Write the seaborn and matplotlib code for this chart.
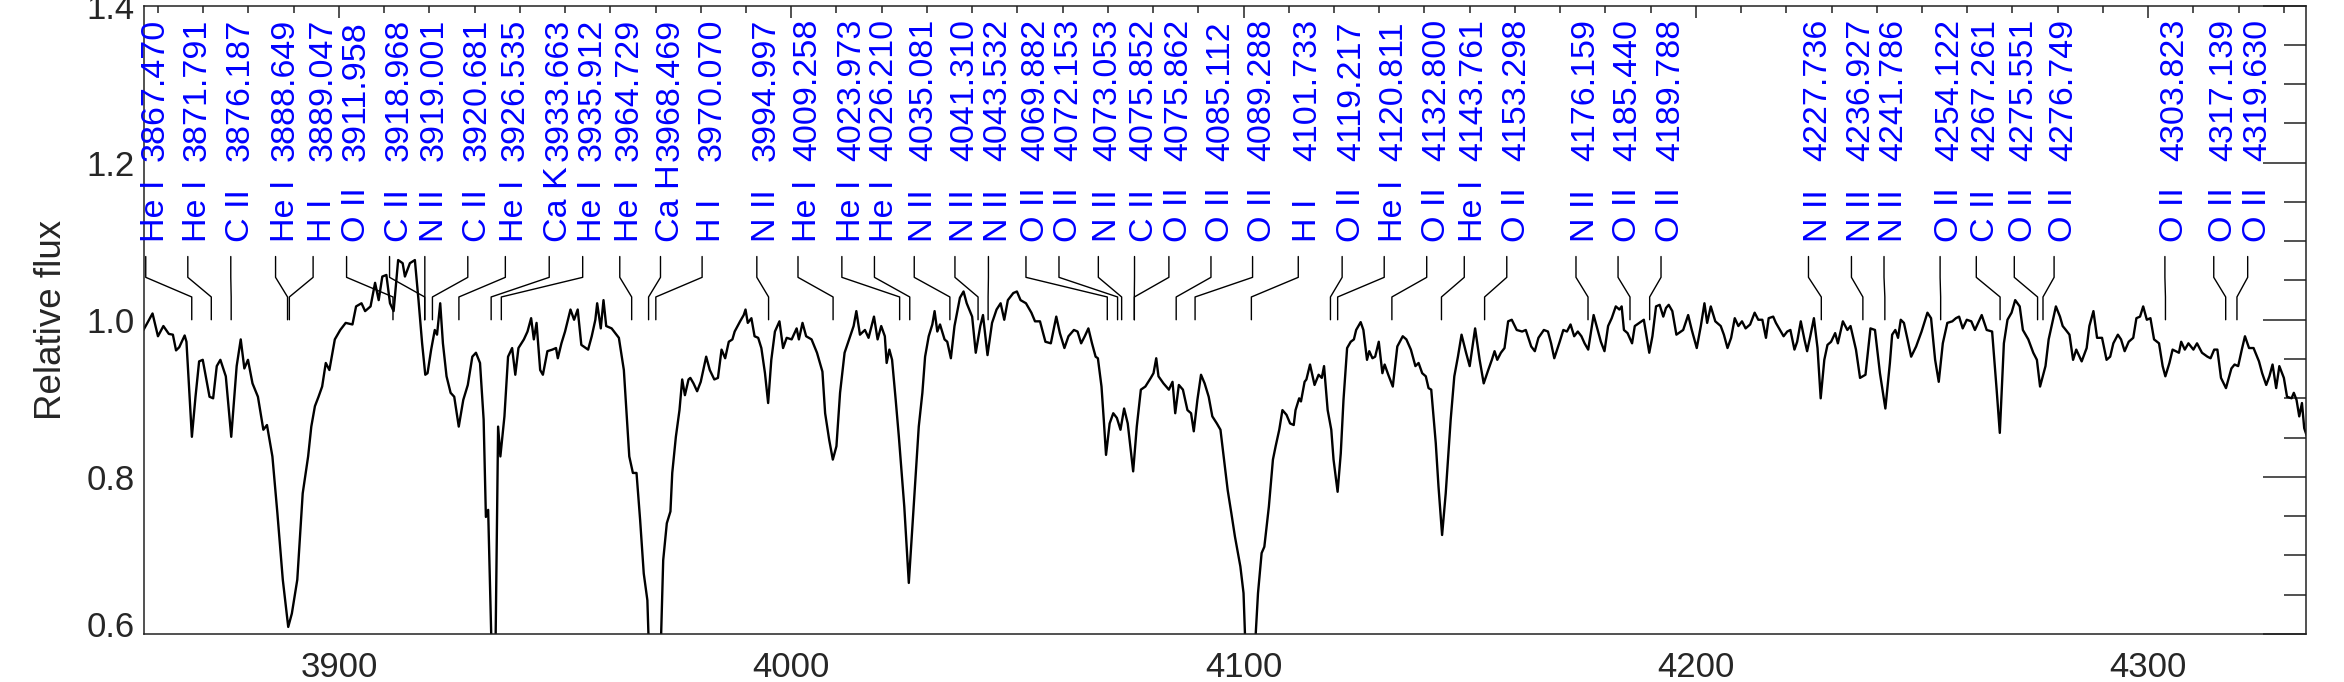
import numpy as np
import pandas as pd
import matplotlib
matplotlib.use("Agg")
import matplotlib.pyplot as plt
import matplotlib.transforms as mtransforms
import seaborn as sns
from matplotlib.ticker import MultipleLocator, FormatStrFormatter

# spectrum, in four stretches
wave_a = [3856.8, 3858.8, 3860.0, 3861.2, 3862.4, 3863.3, 3864.0, 3864.7, 3865.9, 3866.3,
          3867.5, 3868.3, 3869.1, 3869.9, 3870.7, 3871.4, 3872.2, 3873.0, 3873.8, 3875.0,
          3876.2, 3877.4, 3878.3, 3879.1, 3879.9, 3880.9, 3882.1, 3883.3, 3884.1, 3885.3,
          3886.4, 3887.6, 3888.8, 3889.6, 3890.8, 3892.0, 3893.2, 3893.9, 3894.7, 3895.5,
          3896.3, 3897.1, 3897.9, 3899.1, 3900.3, 3901.5, 3903.0, 3903.8, 3905.0, 3905.8,
          3907.0, 3908.0, 3908.8, 3909.6, 3910.5, 3911.3, 3912.1, 3913.1, 3914.1, 3914.6,
          3915.7, 3916.8, 3917.6, 3918.4, 3919.1, 3919.6, 3920.4, 3921.2, 3921.7, 3922.4,
          3923.0, 3923.8, 3924.7, 3925.5, 3926.5, 3927.5, 3928.5, 3929.5, 3930.3, 3931.2,
          3932.0, 3932.5, 3933.0, 3933.8, 3934.6, 3935.2, 3935.7, 3936.6, 3937.4, 3938.3,
          3939.0, 3939.7, 3940.9, 3941.7, 3942.5, 3943.1, 3943.7, 3944.5, 3945.1, 3946.1,
          3947.2, 3948.0, 3948.4, 3949.2, 3950.0, 3951.2, 3952.0, 3952.8, 3953.6, 3955.1,
          3955.9, 3956.7, 3957.1, 3957.9, 3958.5, 3959.1, 3960.3, 3961.9, 3963.0, 3964.2,
          3965.0, 3965.8, 3966.6, 3967.4, 3968.2, 3968.6, 3970.1, 3971.1, 3971.7, 3972.5,
          3973.3, 3973.7, 3974.5, 3975.3, 3975.9, 3976.5, 3977.3]
flux_a = [0.987, 1.008, 0.979, 0.992, 0.982, 0.981, 0.961, 0.965, 0.980, 0.972,
          0.851, 0.902, 0.947, 0.949, 0.924, 0.902, 0.900, 0.941, 0.949, 0.928,
          0.851, 0.941, 0.975, 0.938, 0.949, 0.919, 0.902, 0.860, 0.866, 0.826,
          0.754, 0.669, 0.609, 0.626, 0.669, 0.779, 0.826, 0.864, 0.890, 0.902,
          0.915, 0.945, 0.936, 0.975, 0.987, 0.996, 0.994, 1.017, 1.021, 1.011,
          1.017, 1.047, 1.025, 1.055, 1.057, 1.021, 1.011, 1.076, 1.072, 1.055,
          1.072, 1.076, 1.025, 0.970, 0.930, 0.932, 0.962, 0.987, 0.981, 1.021,
          0.970, 0.928, 0.907, 0.902, 0.864, 0.898, 0.917, 0.953, 0.958, 0.945,
          0.873, 0.749, 0.758, 0.570, 0.570, 0.864, 0.826, 0.877, 0.953, 0.964,
          0.930, 0.964, 0.975, 0.985, 1.002, 0.975, 0.996, 0.936, 0.930, 0.960,
          0.962, 0.964, 0.951, 0.970, 0.985, 1.013, 1.000, 1.013, 0.968, 0.962,
          0.979, 1.000, 1.021, 0.989, 1.025, 0.992, 0.989, 0.977, 0.936, 0.826,
          0.805, 0.805, 0.745, 0.677, 0.643, 0.570, 0.570, 0.570, 0.694, 0.741,
          0.756, 0.805, 0.851, 0.885, 0.924, 0.904, 0.924]

wave_b = [3977.7, 3978.4, 3979.2, 3980.0, 3981.2, 3982.0, 3983.0, 3983.8, 3984.6, 3985.4,
          3986.2, 3987.0, 3987.5, 3988.7, 3989.5, 3989.9, 3990.4, 3991.2, 3991.9, 3992.7,
          3993.4, 3994.2, 3994.9, 3995.6, 3996.4, 3997.4, 3998.2, 3999.0, 4000.1, 4001.2,
          4001.7, 4002.5, 4003.3, 4004.5, 4005.7, 4006.9, 4007.5, 4008.4, 4009.2, 4010.0,
          4010.8, 4011.8, 4012.8, 4013.8, 4014.4, 4015.2, 4016.3, 4017.1, 4018.3, 4019.1,
          4019.9, 4020.7, 4021.1, 4021.7, 4022.3, 4023.1, 4023.8, 4025.0, 4026.0, 4026.8,
          4028.2, 4029.0, 4029.6, 4030.4, 4031.2, 4031.7, 4032.3, 4032.9, 4033.9, 4034.5,
          4035.3, 4036.1, 4037.3, 4038.1, 4038.8, 4040.0, 4040.8, 4041.8, 4042.4, 4043.4,
          4044.4, 4045.4, 4046.3, 4047.1, 4047.9, 4049.1, 4049.9, 4050.7, 4051.9, 4053.1,
          4053.9, 4055.0, 4056.2, 4057.4, 4058.6, 4059.4, 4060.4, 4061.3, 4062.5, 4063.3,
          4064.1, 4064.9, 4065.7, 4066.5, 4067.3, 4067.8, 4068.6, 4069.1, 4069.6, 4070.4,
          4071.2, 4072.0, 4072.8, 4073.6, 4074.4, 4075.6, 4076.4, 4077.3, 4078.3, 4079.5,
          4080.1, 4080.7, 4081.2, 4082.3, 4083.5, 4084.3, 4084.9, 4085.7, 4086.6, 4087.6,
          4088.4, 4089.0, 4089.8, 4090.6, 4091.4, 4092.3, 4093.1, 4094.1, 4094.9, 4095.7,
          4096.5, 4097.3, 4098.1, 4099.3, 4100.0, 4100.5]
flux_b = [0.926, 0.919, 0.909, 0.921, 0.953, 0.936, 0.924, 0.926, 0.962, 0.951,
          0.972, 0.975, 0.985, 0.998, 1.006, 1.013, 0.996, 1.002, 0.979, 0.977,
          0.964, 0.932, 0.894, 0.949, 0.985, 0.998, 0.964, 0.977, 0.975, 0.989,
          0.975, 0.996, 0.979, 0.975, 0.958, 0.934, 0.881, 0.847, 0.822, 0.839,
          0.907, 0.958, 0.975, 0.992, 1.011, 0.981, 0.987, 0.977, 1.004, 0.975,
          0.992, 0.979, 0.945, 0.962, 0.949, 0.898, 0.851, 0.762, 0.665, 0.737,
          0.864, 0.907, 0.953, 0.979, 0.994, 1.011, 0.985, 0.994, 0.975, 0.972,
          0.951, 0.992, 1.028, 1.036, 1.021, 1.004, 0.958, 0.992, 1.006, 0.955,
          0.996, 1.013, 1.021, 1.000, 1.025, 1.034, 1.036, 1.025, 1.021, 1.009,
          0.998, 0.998, 0.972, 0.970, 1.004, 0.983, 0.964, 0.979, 0.987, 0.985,
          0.970, 0.979, 0.989, 0.970, 0.953, 0.951, 0.915, 0.873, 0.828, 0.868,
          0.881, 0.875, 0.860, 0.887, 0.868, 0.807, 0.864, 0.911, 0.915, 0.926,
          0.932, 0.951, 0.928, 0.919, 0.911, 0.921, 0.881, 0.917, 0.911, 0.885,
          0.881, 0.858, 0.898, 0.930, 0.919, 0.902, 0.877, 0.868, 0.860, 0.822,
          0.783, 0.754, 0.724, 0.686, 0.652, 0.570]

wave_c = [4102.4, 4103.2, 4104.0, 4104.6, 4105.6, 4106.5, 4107.1, 4107.9, 4108.6, 4109.5,
          4110.3, 4111.1, 4111.5, 4112.3, 4112.7, 4113.5, 4113.9, 4114.7, 4115.7, 4116.6,
          4117.3, 4117.8, 4118.6, 4119.4, 4119.9, 4120.8, 4121.5, 4122.1, 4122.9, 4123.7,
          4124.4, 4124.9, 4125.9, 4126.5, 4127.3, 4127.8, 4128.5, 4129.1, 4129.9, 4130.7,
          4131.2, 4132.0, 4133.0, 4134.0, 4135.2, 4136.0, 4137.0, 4138.0, 4138.7, 4139.5,
          4140.3, 4140.9, 4141.5, 4142.5, 4143.1, 4143.9, 4144.7, 4145.8, 4146.6, 4147.4,
          4148.2, 4149.2, 4150.0, 4151.2, 4152.2, 4153.1, 4154.1, 4154.9, 4155.5, 4156.1,
          4156.9, 4157.7, 4158.5, 4159.3, 4160.4, 4161.6, 4162.4, 4163.6, 4164.4, 4165.2,
          4166.4, 4167.3, 4168.0, 4168.7, 4169.9, 4170.7, 4171.5, 4172.3, 4173.1, 4173.9,
          4174.7, 4175.4, 4176.2, 4177.4, 4178.2, 4179.0, 4179.8, 4180.6, 4181.4, 4182.3,
          4183.1, 4183.6, 4184.1, 4184.9, 4185.9, 4186.5, 4187.5, 4188.5, 4189.7, 4190.4,
          4191.2, 4192.0, 4192.8, 4193.4, 4194.0, 4194.8, 4195.7, 4197.2, 4198.3, 4199.1,
          4200.2, 4201.1, 4201.9, 4202.5, 4203.3, 4204.3, 4205.5, 4206.2, 4207.0, 4207.8,
          4208.6, 4209.4, 4210.2, 4211.0, 4212.0, 4213.0, 4213.8, 4214.7, 4215.5, 4216.1,
          4217.1, 4217.7, 4218.6]
flux_c = [0.570, 0.652, 0.703, 0.711, 0.762, 0.822, 0.839, 0.860, 0.885, 0.879,
          0.868, 0.866, 0.885, 0.900, 0.896, 0.921, 0.924, 0.943, 0.917, 0.930,
          0.926, 0.941, 0.885, 0.860, 0.822, 0.781, 0.830, 0.898, 0.964, 0.972,
          0.975, 0.987, 0.997, 0.987, 0.949, 0.960, 0.951, 0.953, 0.972, 0.932,
          0.943, 0.930, 0.915, 0.966, 0.979, 0.975, 0.962, 0.941, 0.945, 0.932,
          0.928, 0.913, 0.911, 0.843, 0.788, 0.726, 0.779, 0.873, 0.928, 0.953,
          0.981, 0.958, 0.941, 0.989, 0.949, 0.919, 0.936, 0.949, 0.960, 0.949,
          0.958, 0.964, 0.998, 1.000, 0.987, 0.985, 0.987, 0.966, 0.960, 0.977,
          0.987, 0.985, 0.970, 0.951, 0.972, 0.987, 0.985, 0.994, 0.979, 0.985,
          0.979, 0.970, 0.962, 1.006, 0.989, 0.972, 0.960, 0.992, 1.002, 1.017,
          1.013, 1.017, 0.987, 0.983, 0.970, 0.992, 0.996, 1.000, 0.958, 0.979,
          1.017, 1.019, 1.004, 1.015, 1.019, 1.011, 0.981, 0.987, 1.006, 0.987,
          0.964, 0.992, 1.021, 0.996, 1.017, 0.998, 0.992, 0.981, 0.964, 0.977,
          1.002, 0.992, 0.998, 0.989, 0.994, 1.009, 1.000, 1.000, 0.977, 1.002,
          1.004, 0.996, 0.987]

wave_d = [4219.4, 4220.2, 4220.9, 4221.8, 4222.4, 4223.2, 4224.0, 4224.6, 4225.3, 4226.1,
          4226.9, 4227.6, 4228.4, 4229.1, 4229.9, 4230.8, 4231.4, 4232.5, 4233.5, 4234.2,
          4235.4, 4236.3, 4237.5, 4238.6, 4239.6, 4240.7, 4241.9, 4242.9, 4243.4, 4244.1,
          4244.7, 4245.3, 4246.0, 4246.8, 4247.6, 4248.7, 4249.9, 4251.2, 4252.0, 4252.9,
          4253.7, 4254.6, 4255.6, 4256.7, 4257.5, 4258.2, 4259.0, 4259.9, 4260.9, 4261.7,
          4262.4, 4263.2, 4264.3, 4265.5, 4266.5, 4267.2, 4268.1, 4268.9, 4269.8, 4270.6,
          4271.6, 4272.3, 4273.5, 4274.6, 4275.4, 4276.1, 4277.3, 4278.0, 4278.8, 4279.6,
          4280.5, 4281.1, 4281.8, 4282.6, 4283.4, 4284.1, 4285.3, 4286.4, 4287.0, 4287.9,
          4288.7, 4289.8, 4290.8, 4291.6, 4292.3, 4293.3, 4294.0, 4294.8, 4295.7, 4296.7,
          4297.4, 4298.2, 4298.9, 4299.7, 4300.5, 4301.3, 4302.4, 4303.2, 4303.8, 4304.7,
          4305.4, 4306.8, 4307.3, 4308.1, 4308.9, 4310.0, 4310.8, 4311.9, 4313.1, 4313.8,
          4314.6, 4315.3, 4316.1, 4317.2, 4318.4, 4319.1, 4319.9, 4320.7, 4321.4, 4322.3,
          4323.3, 4324.5, 4325.2, 4326.1, 4326.8, 4327.5, 4328.3, 4329.0, 4330.0, 4330.7,
          4331.7, 4332.2, 4332.8, 4333.4, 4334.0, 4334.5, 4335.2]
flux_d = [0.979, 0.985, 0.987, 0.962, 0.972, 0.998, 0.975, 0.960, 0.979, 1.002,
          0.964, 0.900, 0.949, 0.968, 0.972, 0.983, 0.970, 0.998, 0.987, 0.992,
          0.962, 0.926, 0.930, 0.989, 0.987, 0.932, 0.887, 0.945, 0.981, 0.987,
          0.977, 1.000, 0.996, 0.975, 0.953, 0.966, 0.985, 1.009, 1.002, 0.949,
          0.921, 0.970, 0.996, 0.998, 1.002, 1.004, 0.989, 1.000, 0.998, 0.987,
          0.996, 1.006, 0.987, 0.985, 0.911, 0.856, 0.970, 1.000, 1.009, 1.025,
          1.017, 0.987, 0.975, 0.958, 0.949, 0.915, 0.941, 0.975, 0.996, 1.017,
          1.004, 0.992, 0.987, 0.981, 0.949, 0.962, 0.947, 0.964, 0.992, 1.011,
          0.977, 0.977, 0.949, 0.953, 0.970, 0.981, 0.975, 0.960, 0.972, 0.977,
          1.002, 1.004, 1.017, 1.000, 1.002, 0.975, 0.970, 0.941, 0.928, 0.945,
          0.962, 0.958, 0.972, 0.962, 0.970, 0.962, 0.970, 0.958, 0.953, 0.951,
          0.962, 0.962, 0.926, 0.913, 0.938, 0.943, 0.941, 0.962, 0.979, 0.964,
          0.964, 0.947, 0.932, 0.917, 0.928, 0.943, 0.913, 0.941, 0.926, 0.902,
          0.900, 0.907, 0.898, 0.877, 0.894, 0.862, 0.850]

# line identifications
species = ["He I", "He I", "C II", "He I", "H I", "O II", "C II", "N II", "C II", "He I",
           "Ca K", "He I", "He I", "Ca H", "H I", "N II", "He I", "He I", "He I", "N II",
           "N II", "N II", "O II", "O II", "N II", "C II", "O II", "O II", "O II", "H I",
           "O II", "He I", "O II", "He I", "O II", "N II", "O II", "O II", "N II", "N II",
           "N II", "O II", "C II", "O II", "O II", "O II", "O II", "O II"]
line_wave = [3867.470, 3871.791, 3876.187, 3888.649, 3889.047, 3911.958, 3918.968, 3919.001,
             3920.681, 3926.535, 3933.663, 3935.912, 3964.729, 3968.469, 3970.070, 3994.997,
             4009.258, 4023.973, 4026.210, 4035.081, 4041.310, 4043.532, 4069.882, 4072.153,
             4073.053, 4075.852, 4075.862, 4085.112, 4089.288, 4101.733, 4119.217, 4120.811,
             4132.800, 4143.761, 4153.298, 4176.159, 4185.440, 4189.788, 4227.736, 4236.927,
             4241.786, 4254.122, 4267.261, 4275.551, 4276.749, 4303.823, 4317.139, 4319.630]
label_pos = [3857.3, 3866.6, 3876.1, 3886.0, 3894.3, 3901.7, 3911.2, 3919.0, 3928.5, 3936.8,
             3946.5, 3953.9, 3962.1, 3971.1, 3980.3, 3992.4, 4001.5, 4011.2, 4018.4, 4027.2,
             4036.2, 4043.6, 4051.9, 4059.2, 4067.9, 4075.9, 4083.5, 4092.8, 4102.0, 4112.1,
             4121.8, 4131.1, 4140.5, 4148.8, 4158.2, 4173.5, 4182.8, 4192.3, 4224.9, 4234.4,
             4241.6, 4254.0, 4262.0, 4270.4, 4279.2, 4303.7, 4314.5, 4322.0]

df = pd.DataFrame({
    "wave": wave_a + wave_b + wave_c + wave_d,
    "flux": flux_a + flux_b + flux_c + flux_d,
})

sns.set_style("white")
plt.rcParams['font.family'] = ['Liberation Sans', 'DejaVu Sans']

fig = plt.figure(figsize=(23.44, 6.82), dpi=100)
ax = fig.add_axes([0.0616, 0.0704, 0.9222, 0.9215])

sns.lineplot(data=df, x="wave", y="flux", color="black", lw=1.7,
             estimator=None, sort=False, ax=ax)

# connector from each label down to the line position
for sp, w, lx in zip(species, line_wave, label_pos):
    ax.plot([lx, lx, w, w], [1.0805, 1.054, 1.029, 1.0], color="black", lw=1.0)
    ax.text(lx + 4.0, 1.099, sp, rotation=90, rotation_mode="anchor",
            ha="left", va="baseline", color="blue", fontsize=24.5)
    ax.text(lx + 4.0, 1.2015, f"{w:.3f}", rotation=90, rotation_mode="anchor",
            ha="left", va="baseline", color="blue", fontsize=24.5)

ax.set_xlim(3857.0, 4334.9)
ax.set_ylim(0.6, 1.4)
ax.xaxis.set_major_locator(MultipleLocator(100))
ax.xaxis.set_minor_locator(MultipleLocator(10))
ax.yaxis.set_major_locator(MultipleLocator(0.2))
ax.yaxis.set_minor_locator(MultipleLocator(0.05))
ax.yaxis.set_major_formatter(FormatStrFormatter("%.1f"))

ax.tick_params(which="both", direction="in", top=True, right=True,
               width=1.1, color="#222222", labelsize=25)
ax.tick_params(axis="x", which="major", length=8.6, pad=12)
ax.tick_params(axis="x", which="minor", length=5)
ax.tick_params(axis="y", which="major", length=31, pad=7)
ax.tick_params(axis="y", which="minor", length=15.8)
for s in ax.spines.values():
    s.set_linewidth(1.1)
    s.set_color("#222222")

ax.set_xlabel("")
ax.set_ylabel("Relative flux", fontsize=26.5)
ax.yaxis.set_label_coords(-0.035, 0.5)

# the bottom y label sits a little above its tick, as in the original
fig.canvas.draw()
for lab in ax.get_yticklabels():
    if lab.get_text() == "0.6":
        lab.set_transform(lab.get_transform() +
                          mtransforms.ScaledTranslation(0, 0.1, fig.dpi_scale_trans))

fig.savefig("out.png", dpi=100)
plt.close(fig)
